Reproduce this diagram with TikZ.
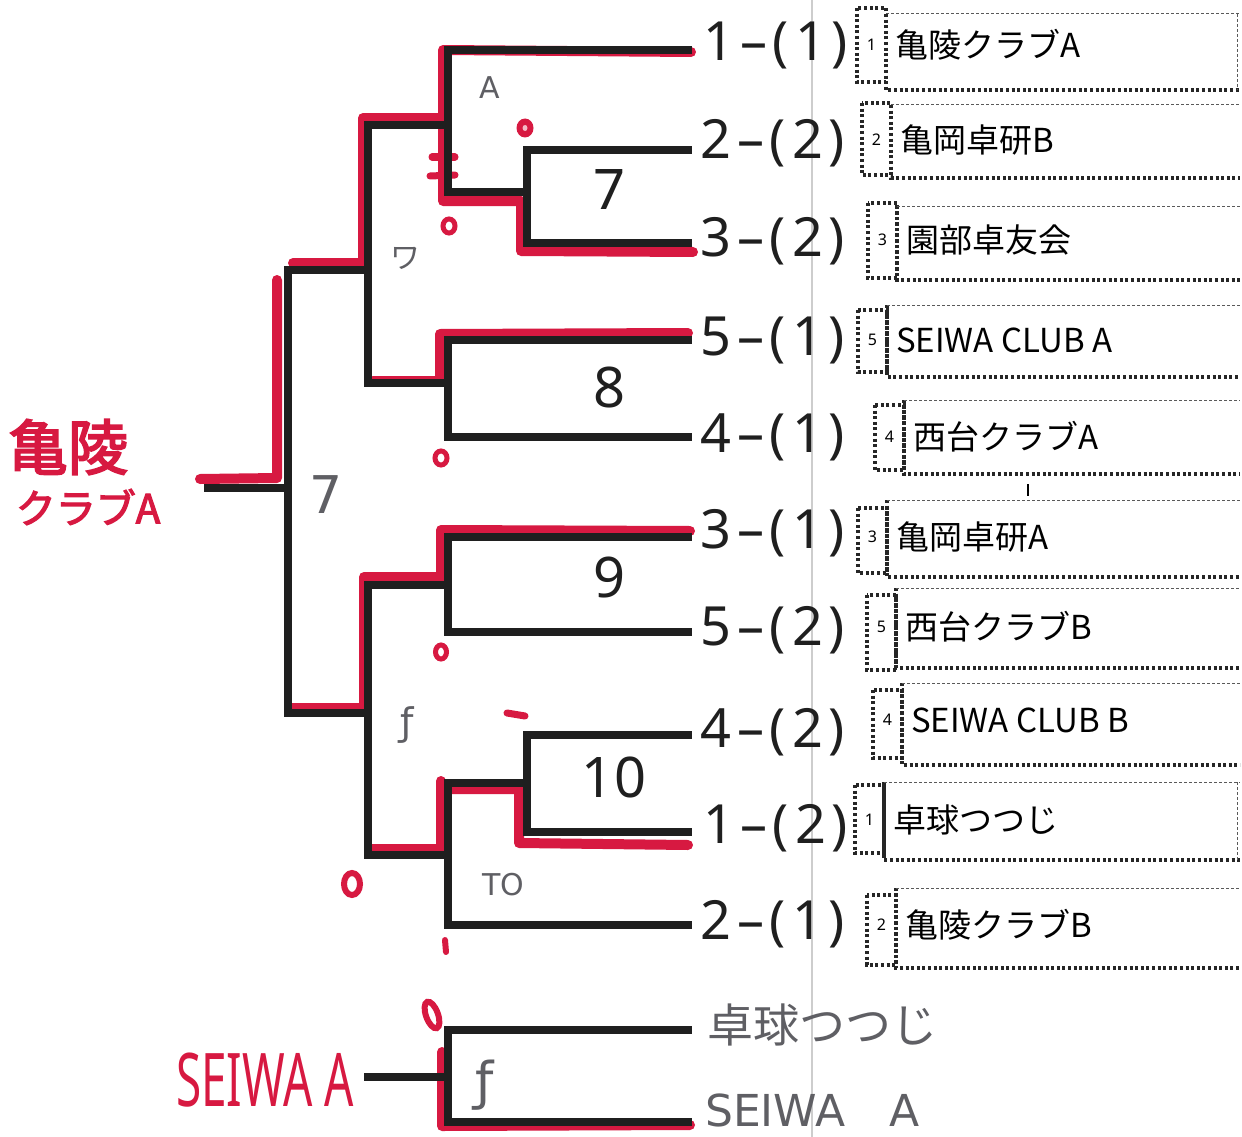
\documentclass[tikz,border=0pt]{standalone}
\usepackage{fontspec}
\setmainfont{Noto Sans}
\newfontfamily\jp{Noto Sans CJK JP}
\newfontfamily\jpbold{Noto Sans CJK JP}[FakeBold=3]
\newfontfamily\seedf{Noto Sans}[LetterSpace=11]
\newfontfamily\handf{DejaVu Sans}
\definecolor{marker}{RGB}{215,25,65}
\definecolor{pencil}{RGB}{95,95,100}
\definecolor{scanline}{RGB}{205,205,205}
\tikzset{
  br/.style={line width=8pt, draw=black!88, line cap=rect, line join=miter},
  mk/.style={line width=10pt, draw=marker, line cap=round, line join=round},
  dotl/.style={line width=3.2pt, draw=black!85, dash pattern=on 3pt off 2.6pt},
  thinl/.style={line width=1pt, draw=black!65, dash pattern=on 3pt off 2pt},
  seedlbl/.style={font=\seedf\fontsize{54}{54}\selectfont, text=black!88, inner sep=0pt, anchor=west},
  matchlbl/.style={font=\fontsize{56}{56}\selectfont, text=black!88, inner sep=0pt},
  numlbl/.style={font=\fontsize{16}{16}\selectfont, inner sep=0pt},
  teamlbl/.style={font=\jp\fontsize{33}{33}\selectfont, inner sep=0pt, anchor=west},
  pen/.style={text=pencil, inner sep=0pt},
  redtxt/.style={text=marker, inner sep=0pt}
}
\newcommand\teamrow[9]{%
  \draw[dotl] (#2,#3) rectangle (#2+29,#4);
  \draw[dotl] (#2+29,#5) -- (#2+29,#6) -- (1240,#6);
  \draw[thinl] (#2+29,#5) -- (1240,#5);
  \node[numlbl] (s#1) at (#2+14.5,#9) {#7};
  \node[teamlbl] (t#1) at (#2+38,#9) {#8};
}
\begin{document}
\begin{tikzpicture}[x=1pt,y=-1pt]
\useasboundingbox (0,0) rectangle (1242,1137);
\fill[white] (0,0) rectangle (1242,1137);
% scan fold line
\draw[scanline, line width=2pt] (812,0) -- (812,1137);

% ---------- coordinates of the bracket ----------
\coordinate (L1) at (688,50);  \coordinate (e1) at (448,50);
\coordinate (L2) at (688,150); \coordinate (e2) at (527,150);
\coordinate (L3) at (688,243); \coordinate (e3) at (527,243);
\coordinate (L4) at (688,340); \coordinate (e4) at (448,340);
\coordinate (L5) at (688,437); \coordinate (e5) at (448,437);
\coordinate (L6) at (688,537); \coordinate (e6) at (448,537);
\coordinate (L7) at (688,632); \coordinate (e7) at (448,632);
\coordinate (L8) at (688,735); \coordinate (e8) at (527,735);
\coordinate (L9) at (688,832); \coordinate (e9) at (527,832);
\coordinate (L10) at (688,925); \coordinate (e10) at (448,925);
\coordinate (m7) at (527,192); \coordinate (m7l) at (448,192);
\coordinate (mA) at (448,125); \coordinate (mAl) at (368,125);
\coordinate (m8) at (448,383); \coordinate (m8l) at (368,383);
\coordinate (mB) at (368,270); \coordinate (mBl) at (288,270);
\coordinate (m9) at (448,585); \coordinate (m9l) at (368,585);
\coordinate (m10) at (527,783); \coordinate (m10l) at (448,783);
\coordinate (mC) at (448,855); \coordinate (mCl) at (368,855);
\coordinate (mD) at (368,713); \coordinate (mDl) at (288,713);
\coordinate (F) at (288,488); \coordinate (Fl) at (208,488);
\coordinate (X1) at (688,1030); \coordinate (x1) at (448,1030);
\coordinate (X2) at (688,1122); \coordinate (x2) at (448,1122);
\coordinate (xm) at (448,1077); \coordinate (xml) at (368,1077);

% ---------- red marker (winner paths) ----------
\draw[mk] (691,52) -- (443,50) -- (443,201) -- (521,201) -- (521,251) -- (693,252);
\draw[mk] (446,118) -- (363,118) -- (363,263) -- (293,263);
\draw[mk] (277,280) -- (277,478) -- (200,479);
\draw[mk] (688,333) -- (440,334) -- (440,381) -- (373,381);
\draw[mk] (690,531) -- (441,530) -- (441,577) -- (364,577) -- (364,708) -- (292,708);
\draw[mk] (688,845) -- (519,843) -- (519,789) -- (441,789) -- (441,849) -- (370,849);
\draw[mk] (441,781) -- (441,789);
\draw[mk] (690,1125) -- (442,1126) -- (442,1052);
\draw[mk,line width=7pt] (432,157) -- (455,157);
\draw[mk,line width=7pt] (430,176) -- (455,175);
% red "o" marks
\fill[marker] (525,128) ellipse (8.5 and 9.5);
\fill[white!70!marker] (525,128) ellipse (2.5 and 3);
\draw[marker, line width=5pt] (449,226) ellipse (6 and 7);
\draw[marker, line width=5pt] (441,458) ellipse (6 and 7);
\draw[marker, line width=5pt] (441,652) ellipse (5.5 and 7);
\draw[marker, line width=6pt] (352,884) ellipse (8 and 11);
\draw[marker, line width=6pt, rotate around={20:(432,1015)}] (432,1015) ellipse (6 and 14);
\draw[mk,line width=6pt] (445,940) -- (446,952);
\draw[mk,line width=7pt] (507,713) -- (525,716);

% ---------- black bracket ----------
\draw[br] (L1) -- (e1) -- (m7l);
\draw[br] (L2) -- (e2) -- (e3) -- (L3);
\draw[br] (m7) -- (m7l);
\draw[br] (mA) -- (mAl);
\draw[br] (L4) -- (e4) -- (e5) -- (L5);
\draw[br] (m8) -- (m8l);
\draw[br] (mAl) -- (m8l);
\draw[br] (mB) -- (mBl);
\draw[br] (L6) -- (e6) -- (e7) -- (L7);
\draw[br] (m9) -- (m9l);
\draw[br] (L8) -- (e8) -- (e9) -- (L9);
\draw[br] (m10) -- (m10l);
\draw[br] (m10l) -- (e10) -- (L10);
\draw[br] (mC) -- (mCl);
\draw[br] (m9l) -- (mCl);
\draw[br] (mD) -- (mDl);
\draw[br] (mBl) -- (mDl);
\draw[br] (F) -- (Fl);
\draw[br] (X1) -- (x1) -- (x2) -- (X2);
\draw[br] (xm) -- (xml);

% ---------- seed labels ----------
\node[seedlbl] (p1) at (703,45) {1–(1)};
\node[seedlbl] (p2) at (700,143) {2–(2)};
\node[seedlbl] (p3) at (700,241) {3–(2)};
\node[seedlbl] (p4) at (700,340) {5–(1)};
\node[seedlbl] (p5) at (700,437) {4–(1)};
\node[seedlbl] (p6) at (700,533) {3–(1)};
\node[seedlbl] (p7) at (700,630) {5–(2)};
\node[seedlbl] (p8) at (700,732) {4–(2)};
\node[seedlbl] (p9) at (703,828) {1–(2)};
\node[seedlbl] (p10) at (700,924) {2–(1)};

% ---------- match numbers ----------
\node[matchlbl] (g7) at (610,190) {7};
\node[matchlbl] (g8) at (610,388) {8};
\node[matchlbl] (g9) at (610,578) {9};
\node[matchlbl] (g10) at (614,777) {10};

% ---------- team boxes ----------
\teamrow{1}{857}{8}{82}{14}{90}{1}{亀陵クラブA}{45}
\teamrow{2}{862}{103}{175}{105}{178}{2}{亀岡卓研B}{140}
\teamrow{3}{868}{203}{278}{206}{280}{3}{園部卓友会}{240}
\teamrow{4}{858}{310}{372}{305}{377}{5}{SEIWA CLUB A}{340}
\teamrow{5}{875}{405}{470}{400}{474}{4}{西台クラブA}{437}
\teamrow{6}{858}{508}{573}{500}{577}{3}{亀岡卓研A}{537}
\teamrow{7}{867}{595}{670}{588}{668}{5}{西台クラブB}{627}
\teamrow{8}{873}{690}{758}{683}{765}{4}{SEIWA CLUB B}{720}
\teamrow{9}{855}{785}{853}{782}{860}{1}{卓球つつじ}{820}
\teamrow{10}{867}{895}{965}{888}{968}{2}{亀陵クラブB}{925}
\draw[thinl] (1237,14) -- (1237,90);
\draw[thinl] (1237,782) -- (1237,860);
\draw[line width=2pt] (1028,484) -- (1028,496);

% ---------- pencil notes ----------
\node[pen, font=\handf\fontsize{30}{30}\selectfont] (h1) at (490,88) {A};
\node[pen, font=\jp\fontsize{30}{30}\selectfont] (h2) at (405,258) {ワ};
\node[pen, font=\handf\fontsize{52}{52}\selectfont] (h3) at (326,495) {7};
\node[pen, font=\handf\fontsize{38}{38}\selectfont] (h4) at (407,725) {ƒ};
\node[pen, font=\handf\fontsize{30}{30}\selectfont] (h5) at (503,885) {TO};
\node[pen, font=\handf\fontsize{52}{52}\selectfont] (h6) at (485,1085) {ƒ};
\node[pen, font=\jp\fontsize{46}{46}\selectfont] (h7) at (822,1025) {卓球つつじ};
\node[pen, font=\handf\fontsize{44}{44}\selectfont, anchor=west] (h8) at (705,1110) {SEIWA\quad A};

% ---------- red handwritten results ----------
\node[redtxt, font=\jpbold\fontsize{60}{60}\selectfont] (w1) at (68,447) {亀陵};
\node[redtxt, font=\jpbold\fontsize{40}{40}\selectfont] (w2) at (88,507) {クラブA};
\node[redtxt, font=\fontsize{74}{74}\selectfont\bfseries] (w3) at (265,1080) {\scalebox{0.62}[1]{SEIWA A}};
\end{tikzpicture}
\end{document}
